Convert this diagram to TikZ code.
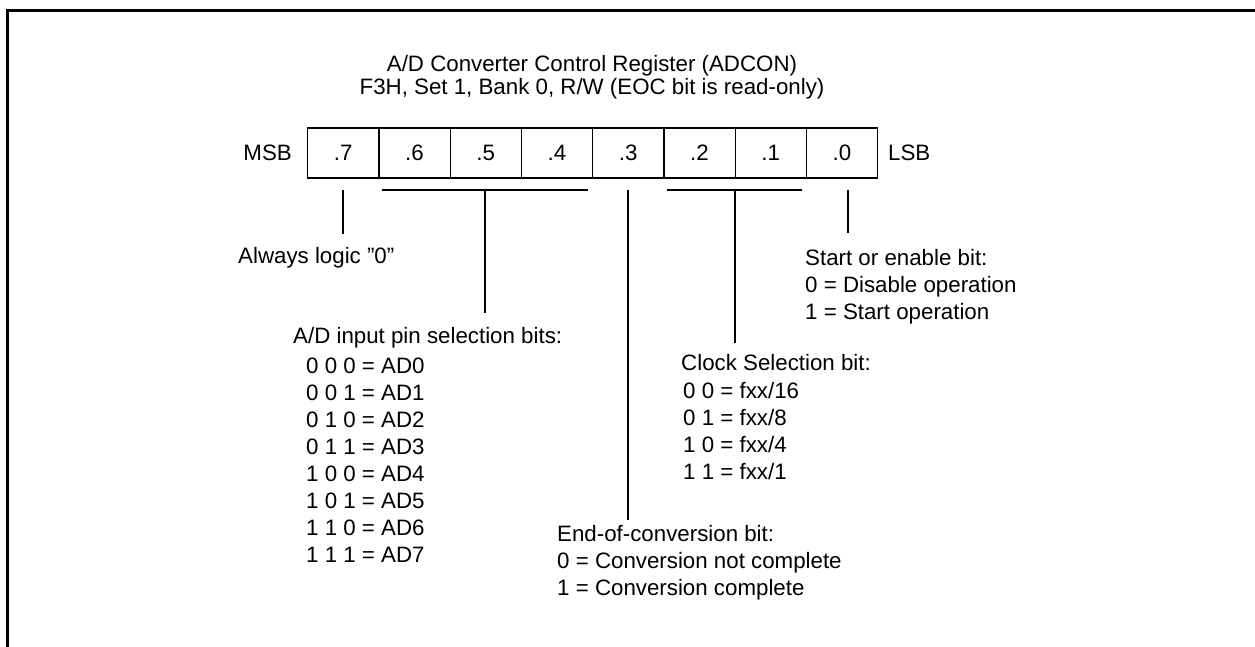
\documentclass[tikz,border=0pt]{standalone}
\usepackage{fontspec}
\setmainfont{Liberation Sans}
\begin{document}
\begin{tikzpicture}[x=1pt,y=-1pt,
  font=\fontsize{22.3pt}{27pt}\selectfont,
  cell/.style={draw, line width=1.3pt, minimum width=71.25pt, minimum height=50pt, inner sep=0pt, anchor=west},
  txt/.style={anchor=base west, inner sep=0pt},
  conn/.style={line width=1.3pt}]
\useasboundingbox (0,0) rectangle (1255,647);
% frame (top and left edges)
\draw[line width=3pt] (7.5,660) -- (7.5,10.5) -- (1270,10.5);
% title
\node[anchor=base, inner sep=0pt] (t1) at (592,72) {A/D Converter Control Register (ADCON)};
\node[anchor=base, inner sep=0pt] (t2) at (592,95) {F3H, Set 1, Bank 0, R/W (EOC bit is read-only)};
% register cells
\node[cell] (c7) at (307,153) {.7};
\node[cell] (c6) at (378.25,153) {.6};
\node[cell] (c5) at (449.5,153) {.5};
\node[cell] (c4) at (520.75,153) {.4};
\node[cell] (c3) at (592,153) {.3};
\node[cell] (c2) at (663.25,153) {.2};
\node[cell] (c1) at (734.5,153) {.1};
\node[cell] (c0) at (805.75,153) {.0};
\node[anchor=base east, inner sep=0pt] (msb) at (292,161) {MSB};
\node[anchor=base west, inner sep=0pt] (lsb) at (888,161) {LSB};
% connector coordinates
\coordinate (a7) at (343,190);
\coordinate (b7) at (343,234);
\coordinate (pL) at (382,190);
\coordinate (pR) at (588,190);
\coordinate (pT) at (485,190);
\coordinate (pB) at (485,313);
\coordinate (a3) at (628,190);
\coordinate (b3) at (628,520);
\coordinate (kL) at (667,190);
\coordinate (kR) at (802,190);
\coordinate (kT) at (735,190);
\coordinate (kB) at (735,343);
\coordinate (a0) at (848,190);
\coordinate (b0) at (848,233);
\draw[conn] (a7) -- (b7);
\draw[conn] (pL) -- (pR);
\draw[conn] (pT) -- (pB);
\draw[conn] (a3) -- (b3);
\draw[conn] (kL) -- (kR);
\draw[conn] (kT) -- (kB);
\draw[conn] (a0) -- (b0);
% labels
\node[txt] (l7) at (238,263) {Always logic {\char34}0{\char34}};
\node[txt] (s0) at (805,265) {Start or enable bit:};
\node[txt] (s1) at (805,292) {0 = Disable operation};
\node[txt] (s2) at (805,319) {1 = Start operation};
\node[txt] (p0) at (293,343) {A/D input pin selection bits:};
\node[txt] (p1) at (306,373) {0 0 0 = AD0};
\node[txt] (p2) at (306,400) {0 0 1 = AD1};
\node[txt] (p3) at (306,427) {0 1 0 = AD2};
\node[txt] (p4) at (306,454) {0 1 1 = AD3};
\node[txt] (p5) at (306,481) {1 0 0 = AD4};
\node[txt] (p6) at (306,508) {1 0 1 = AD5};
\node[txt] (p7) at (306,535) {1 1 0 = AD6};
\node[txt] (p8) at (306,562) {1 1 1 = AD7};
\node[txt] (k0) at (681,370) {Clock Selection bit:};
\node[txt] (k1) at (683,398) {0 0 = fxx/16};
\node[txt] (k2) at (683,425) {0 1 = fxx/8};
\node[txt] (k3) at (683,452) {1 0 = fxx/4};
\node[txt] (k4) at (683,479) {1 1 = fxx/1};
\node[txt] (e0) at (557,541) {End-of-conversion bit:};
\node[txt] (e1) at (557,568) {0 = Conversion not complete};
\node[txt] (e2) at (557,595) {1 = Conversion complete};
\end{tikzpicture}
\end{document}
